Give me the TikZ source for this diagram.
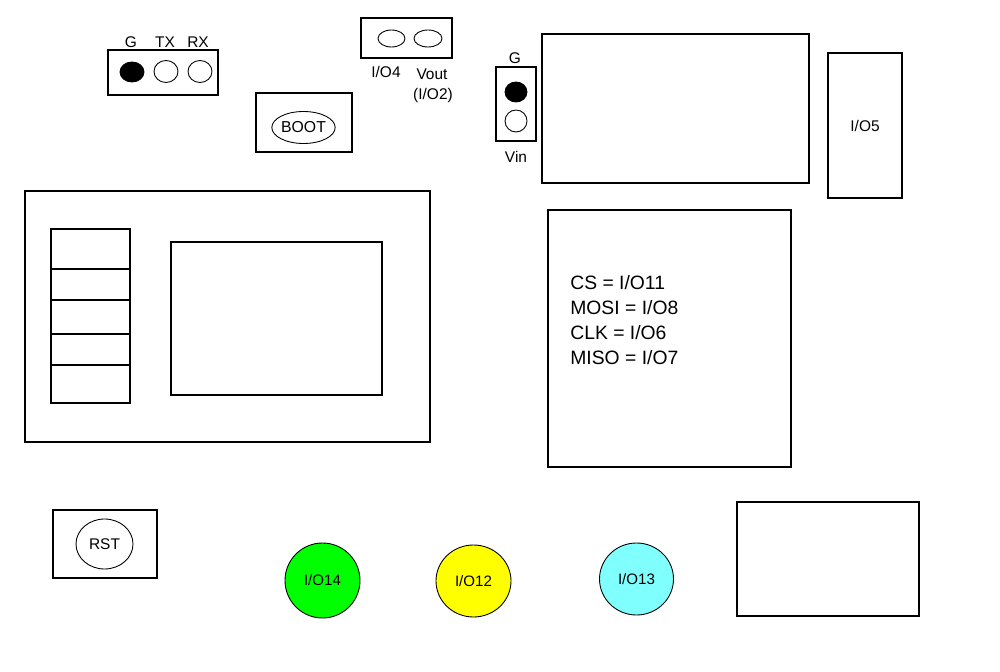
\documentclass[tikz,border=0pt]{standalone}
\usepackage{fontspec}
\setmainfont{Liberation Sans}
\usetikzlibrary{shapes.geometric}
\definecolor{ledgreen}{HTML}{00FF00}
\definecolor{ledyellow}{HTML}{FFFF00}
\definecolor{ledcyan}{HTML}{80FFFF}
\begin{document}
\begin{tikzpicture}[x=0.02cm,y=-0.02cm,
  box/.style={draw, line width=0.8pt, inner sep=0pt},
  sz/.style 2 args={minimum width=#1*0.02cm, minimum height=#2*0.02cm},
  pin/.style={draw, ellipse, line width=0.5pt, inner sep=0pt},
  led/.style={draw, ellipse, line width=0.5pt, inner sep=0pt, font=\fontsize{8.6}{10}\selectfont},
  lbl/.style={inner sep=0pt, font=\fontsize{8.8}{10}\selectfont},
  spitext/.style={inner sep=0pt, anchor=base west, font=\fontsize{11}{14}\selectfont},
]
\useasboundingbox (0,0) rectangle (1000,672);

% UART header
\node[box, sz={110}{45}] (uart) at (163,72.5) {};
\node[pin, fill=black, sz={24}{20}] (uartg) at (132,72) {};
\node[pin, sz={24}{22}] (uarttx) at (166,71.5) {};
\node[pin, sz={24}{22}] (uartrx) at (200,71.5) {};
\node[lbl] (lg) at (131,42) {G};
\node[lbl] (ltx) at (165,42) {TX};
\node[lbl] (lrx) at (198,42) {RX};

% I/O4 / Vout header
\node[box, sz={91}{40}] (pwr) at (406.5,38) {};
\node[pin, sz={27}{17}] (pio4) at (391.5,38.5) {};
\node[pin, sz={28}{17}] (pvout) at (428,38.5) {};
\node[lbl] (lio4) at (386,72) {I/O4};
\node[lbl] (lvout) at (432,74) {Vout};
\node[lbl] (lio2) at (433,95) {(I/O2)};

% BOOT
\node[box, sz={96}{59}] (bootbox) at (304,122.5) {};
\node[pin, sz={47}{32}, font=\fontsize{9}{10}\selectfont] (boot) at (303.5,127.5) {BOOT};

% G / Vin header
\node[box, sz={40}{74}] (vinbox) at (516,104) {};
\node[pin, fill=black, sz={22}{20}] (ping) at (516,92) {};
\node[pin, sz={22}{22}] (pinvin) at (516,121) {};
\node[lbl] (lg2) at (515,58) {G};
\node[lbl] (lvin) at (516,157) {Vin};

% top modules
\node[box, sz={267}{149}] (topmod) at (675.5,108.5) {};
\node[box, sz={74}{145}, font=\fontsize{8.8}{10}\selectfont] (io5) at (865,125.5) {I/O5};

% LCD block
\node[box, sz={405}{251}] (lcd) at (227.5,316.5) {};
\node[box, sz={79}{40}] (c1) at (90.5,249) {};
\node[box, sz={79}{31}] (c2) at (90.5,284.5) {};
\node[box, sz={79}{34}] (c3) at (90.5,317) {};
\node[box, sz={79}{31}] (c4) at (90.5,349.5) {};
\node[box, sz={79}{38}] (c5) at (90.5,384) {};
\node[box, sz={211}{153}] (screen) at (276.5,318.5) {};

% SPI block
\node[box, sz={243}{257}] (spi) at (669.5,338.5) {};
\node[spitext] (spi1) at (570,289.7) {CS = I/O11};
\node[spitext] (spi2) at (570,314.7) {MOSI = I/O8};
\node[spitext] (spi3) at (570,339.7) {CLK = I/O6};
\node[spitext] (spi4) at (570,364.7) {MISO = I/O7};

% bottom right
\node[box, sz={182}{114}] (brmod) at (828,559) {};

% RST
\node[box, sz={104}{68}] (rstbox) at (105,544) {};
\node[pin, sz={57}{50}, font=\fontsize{8.8}{10}\selectfont] (rst) at (104.5,544) {RST};

% LEDs
\node[led, fill=ledgreen, sz={75}{75}] (io14) at (322.5,580.5) {I/O14};
\node[led, fill=ledyellow, sz={75}{72}] (io12) at (473.5,581) {I/O12};
\node[led, fill=ledcyan, sz={74}{72}] (io13) at (636.5,579) {I/O13};
\end{tikzpicture}
\end{document}
